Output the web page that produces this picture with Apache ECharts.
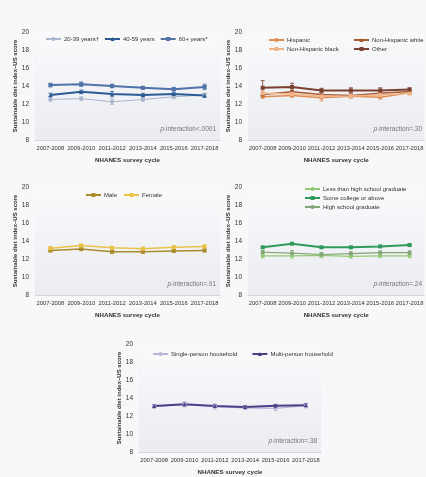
<!DOCTYPE html>
<html>
<head>
<meta charset="utf-8">
<script src="https://cdn.jsdelivr.net/npm/echarts@6/dist/echarts.min.js"></script>
<style>
  html, body { margin: 0; padding: 0; background: #f8f8fa; }
  #chart { width: 426px; height: 477px; }
</style>
</head>
<body>
<div id="chart"></div>
<script>
// survey cycles (x axis)
var cycles = ['2007-2008', '2009-2010', '2011-2012', '2013-2014', '2015-2016', '2017-2018'];
var yTicks = [8, 20, 2]; // min, max, step

// age
var age2039 = [12.5, 12.6, 12.25, 12.5, 12.8, 13.0];
var age4059 = [13.0, 13.35, 13.1, 13.0, 13.1, 12.95];
var age60 = [14.1, 14.2, 14.0, 13.8, 13.65, 13.9];
var age2039Err = [0.2, 0.2, 0.3, 0.2, 0.2, 0.2];
var age4059Err = [0.2, 0.2, 0.3, 0.2, 0.2, 0.2];
var age60Err = [0.2, 0.25, 0.2, 0.15, 0.2, 0.3];

// race / ethnicity
var hispanic = [12.8, 12.95, 12.7, 12.85, 12.75, 13.25];
var nhWhite = [13.05, 13.35, 13.05, 12.95, 13.2, 13.4];
var nhBlack = [13.2, 13.1, 12.85, 12.9, 13.0, 13.2];
var other = [13.8, 13.9, 13.5, 13.5, 13.5, 13.6];
var hispanicErr = [0.15, 0.2, 0.35, 0.2, 0.2, 0.15];
var nhWhiteErr = [0.15, 0.2, 0.15, 0.15, 0.15, 0.15];
var nhBlackErr = [0.2, 0.2, 0.2, 0.2, 0.2, 0.2];
var otherErr = [0.8, 0.4, 0.25, 0.3, 0.3, 0.2];

// sex
var male = [12.95, 13.1, 12.8, 12.8, 12.9, 12.95];
var female = [13.2, 13.5, 13.25, 13.15, 13.3, 13.4];
var maleErr = [0.15, 0.15, 0.15, 0.15, 0.15, 0.15];
var femaleErr = [0.15, 0.15, 0.15, 0.15, 0.15, 0.15];

// education
var lessHS = [12.35, 12.35, 12.4, 12.3, 12.35, 12.35];
var college = [13.3, 13.7, 13.3, 13.3, 13.4, 13.55];
var hsGrad = [12.75, 12.65, 12.5, 12.6, 12.7, 12.7];
var lessHSErr = [0.2, 0.25, 0.25, 0.2, 0.2, 0.2];
var collegeErr = [0.1, 0.1, 0.1, 0.1, 0.1, 0.1];
var hsGradErr = [0.2, 0.3, 0.2, 0.2, 0.2, 0.2];

// household
var single = [13.05, 13.3, 13.05, 12.9, 12.85, 13.15];
var multi = [13.1, 13.3, 13.1, 13.0, 13.15, 13.2];
var singleErr = [0.2, 0.3, 0.3, 0.15, 0.25, 0.25];
var multiErr = [0.15, 0.15, 0.15, 0.15, 0.15, 0.15];

var FONT = "'Liberation Sans Narrow', 'Liberation Sans', sans-serif";

var grids = [
  { left: 35, top: 32, width: 185, height: 108 },
  { left: 248, top: 32, width: 182, height: 108 },
  { left: 35, top: 187, width: 185, height: 108 },
  { left: 248, top: 187, width: 182, height: 108 },
  { left: 139, top: 344, width: 182, height: 108 }
];

var plotBg = {
  type: 'linear', x: 0, y: 0, x2: 0, y2: 1,
  colorStops: [{ offset: 0, color: '#fafafc' }, { offset: 1, color: '#eaecf1' }]
};

function lineSeries(idx, name, data, color, symbol, width) {
  return {
    type: 'line', name: name, xAxisIndex: idx, yAxisIndex: idx, data: data,
    symbol: symbol, symbolSize: 4, z: 3,
    lineStyle: { color: color, width: width },
    itemStyle: { color: color }
  };
}

// error bars
function errSeries(idx, data, errs, color) {
  return {
    type: 'custom', xAxisIndex: idx, yAxisIndex: idx, silent: true, z: 2,
    data: data.map(function (v, i) { return [i, v - errs[i], v + errs[i]]; }),
    renderItem: function (params, api) {
      var lo = api.coord([api.value(0), api.value(1)]);
      var hi = api.coord([api.value(0), api.value(2)]);
      var st = { stroke: color, lineWidth: 0.8 };
      return {
        type: 'group',
        children: [
          { type: 'line', shape: { x1: lo[0], y1: lo[1], x2: hi[0], y2: hi[1] }, style: st },
          { type: 'line', shape: { x1: lo[0] - 2, y1: lo[1], x2: lo[0] + 2, y2: lo[1] }, style: st },
          { type: 'line', shape: { x1: hi[0] - 2, y1: hi[1], x2: hi[0] + 2, y2: hi[1] }, style: st }
        ]
      };
    }
  };
}

var panels = [
  { p: 'p-interaction<.0001', lines: [
    ['20-39 years\u2020', age2039, age2039Err, '#a9b6cb', 'circle', 1],
    ['40-59 years', age4059, age4059Err, '#2c5a96', 'triangle', 2],
    ['60+ years*', age60, age60Err, '#4f72a8', 'rect', 2]
  ] },
  { p: 'p-interaction=.30', lines: [
    ['Hispanic', hispanic, hispanicErr, '#e08b52', 'circle', 1.5],
    ['Non-Hispanic white', nhWhite, nhWhiteErr, '#a65a35', 'triangle', 1.5],
    ['Non-Hispanic black', nhBlack, nhBlackErr, '#f2b58a', 'rect', 1.5],
    ['Other', other, otherErr, '#7a4130', 'rect', 2]
  ] },
  { p: 'p-interaction=.91', lines: [
    ['Male', male, maleErr, '#a98b2c', 'rect', 1.5],
    ['Female', female, femaleErr, '#eac34a', 'rect', 1.5]
  ] },
  { p: 'p-interaction=.24', lines: [
    ['Less than high school graduate', lessHS, lessHSErr, '#95c874', 'circle', 1.2],
    ['Some college or above', college, collegeErr, '#2f9a5c', 'rect', 2],
    ['High school graduate', hsGrad, hsGradErr, '#82a476', 'circle', 1.2]
  ] },
  { p: 'p-interaction=.38', lines: [
    ['Single-person household', single, singleErr, '#b9b5d8', 'circle', 1.2],
    ['Multi-person household', multi, multiErr, '#4b3f88', 'triangle', 2]
  ] }
];

var legendPos = [
  [{ left: 40, top: 31, names: [0, 1, 2], orient: 'horizontal', gap: 5 }],
  [{ left: 263, top: 32, names: [0, 2], orient: 'vertical', gap: 3 },
   { left: 348, top: 32, names: [1, 3], orient: 'vertical', gap: 3 }],
  [{ left: 80, top: 187, names: [0, 1], orient: 'horizontal', gap: 6 }],
  [{ left: 299, top: 181, names: [0, 1, 2], orient: 'vertical', gap: 3 }],
  [{ left: 147, top: 346, names: [0, 1], orient: 'horizontal', gap: 14 }]
];

var xAxes = [], yAxes = [], series = [], legends = [], graphics = [];
grids.forEach(function (g, i) {
  g.show = true;
  g.backgroundColor = plotBg;
  g.borderWidth = 0;
  xAxes.push({
    type: 'category', gridIndex: i, data: cycles, boundaryGap: true,
    axisLine: { lineStyle: { color: '#d4d6dc', width: 1 } },
    axisTick: { show: false },
    axisLabel: { fontSize: 5.8, color: '#333', margin: 5, fontFamily: FONT, interval: 0 },
    name: 'NHANES survey cycle', nameLocation: 'middle', nameGap: 17,
    nameTextStyle: { fontSize: 6.2, fontWeight: 'bold', color: '#333', fontFamily: FONT }
  });
  yAxes.push({
    type: 'value', gridIndex: i, min: yTicks[0], max: yTicks[1], interval: yTicks[2],
    axisLine: { show: false }, axisTick: { show: false }, splitLine: { show: false },
    axisLabel: { fontSize: 6.5, color: '#333', margin: 6, fontFamily: FONT },
    name: 'Sustainable diet index\u2013US score', nameLocation: 'middle', nameGap: 15,
    nameTextStyle: { fontSize: 6, fontWeight: 'bold', color: '#333', fontFamily: FONT }
  });
  var pan = panels[i];
  pan.lines.forEach(function (l) {
    series.push(errSeries(i, l[1], l[2], l[3]));
    series.push(lineSeries(i, l[0], l[1], l[3], l[4], l[5]));
  });
  legendPos[i].forEach(function (lp) {
    legends.push({
      left: lp.left, top: lp.top, orient: lp.orient,
      data: lp.names.map(function (k) { return pan.lines[k][0]; }),
      itemWidth: 15, itemHeight: 5, itemGap: lp.gap,
      selectedMode: false,
      textStyle: { fontSize: 6, color: '#333', fontFamily: FONT, padding: [0, 0, 0, -2] }
    });
  });
  graphics.push({
    type: 'text', right: 426 - (g.left + Math.min(g.width, 426 - g.left) - 4),
    top: g.top + g.height - 14,
    style: {
      text: '{i|p}' + pan.p.slice(1), fill: '#777', fontSize: 6.5, fontFamily: FONT,
      rich: { i: { fontStyle: 'italic', fontSize: 6.5, fill: '#777', fontFamily: FONT } }
    }
  });
});

var chart = echarts.init(document.getElementById('chart'), null, { renderer: 'canvas' });
chart.setOption({
  backgroundColor: '#f8f8fa',
  animation: false,
  grid: grids,
  xAxis: xAxes,
  yAxis: yAxes,
  legend: legends,
  series: series,
  graphic: graphics
});
</script>
</body>
</html>
